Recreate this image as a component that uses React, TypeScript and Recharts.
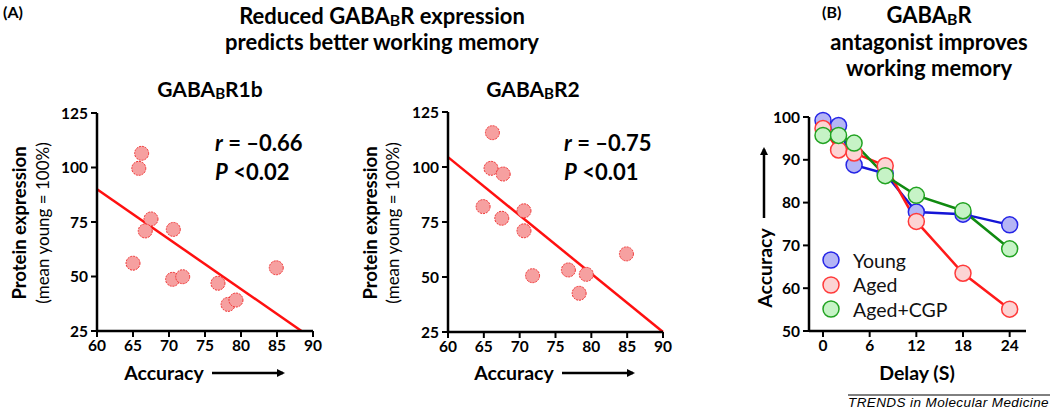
import React from 'react';
import {
  ScatterChart,
  Scatter,
  LineChart,
  Line,
  XAxis,
  YAxis,
  ReferenceLine
} from 'recharts';

// Panel A, GABA-B R1b: accuracy (%) vs protein expression (% of young mean)
const r1bAccuracy = [66.2, 65.8, 67.5, 66.7, 70.6, 65.0, 70.5, 71.9, 76.8, 78.2, 79.3, 84.9];
const r1bProtein = [106.5, 99.6, 76.4, 70.9, 71.6, 56.1, 48.7, 49.9, 46.9, 37.2, 39.2, 54.0];
const r1bFitX = [60, 88.4];
const r1bFitY = [90, 25];

// Panel A, GABA-B R2
const r2Accuracy = [66.2, 66.0, 67.7, 64.9, 67.5, 70.6, 70.6, 71.8, 76.8, 79.3, 78.3, 84.9];
const r2Protein = [115.6, 99.4, 96.8, 82.0, 76.7, 80.1, 71.0, 50.6, 53.2, 51.2, 42.6, 60.5];
const r2FitX = [60, 90];
const r2FitY = [104.5, 25];

const accuracyTicks = [60, 65, 70, 75, 80, 85, 90];
const proteinTicks = [25, 50, 75, 100, 125];

// Panel B: delay (s) vs accuracy (%)
const delays = [0, 2, 4, 8, 12, 18, 24];
const young = [99.2, 98.0, 88.8, 86.8, 77.8, 77.3, 74.8];
const aged = [97.3, 92.3, 91.6, 88.6, 75.6, 63.5, 55.1];
const agedCgp = [95.7, 95.7, 93.9, 86.3, 81.7, 78.1, 69.2];
const delayTicks = [0, 6, 12, 18, 24];
const memoryTicks = [50, 60, 70, 80, 90, 100];

const seriesNames = ['Young', 'Aged', 'Aged+CGP'];
const seriesKeys = ['young', 'aged', 'cgp'];
const lineColors = ['#1414d6', '#ff1a1a', '#108a10'];
const dotFills = ['#b5b5f5', '#fcd4d4', '#c6f3c6'];
const dotStrokes = ['#2424e6', '#ff3a3a', '#22a322'];

const FONT = "Lato, 'Open Sans', sans-serif";

const toPoints = (xs: number[], ys: number[]) => xs.map((x, i) => ({ x, y: ys[i] }));

const memoryData = delays.map((d, i) => ({
  delay: d,
  young: young[i],
  aged: aged[i],
  cgp: agedCgp[i]
}));

const tickStyle = { fill: '#000', fontSize: 15.5, fontWeight: 700, fontFamily: FONT };
const axisLine = { stroke: '#000', strokeWidth: 2.5 };
const tickLine = { stroke: '#000', strokeWidth: 2 };

const PinkDot = (props: any) => {
  const { cx, cy } = props;
  if (cx == null || cy == null) return null;
  return <circle cx={cx} cy={cy} r={7} fill="#f6a0a0" stroke="#f03030" strokeWidth={1} strokeDasharray="2 1" />;
};

const makeDot = (i: number) => (props: any) => {
  const { cx, cy, index } = props;
  if (cx == null || cy == null) return <g key={index} />;
  return <circle key={index} cx={cx} cy={cy} r={8} fill={dotFills[i]} stroke={dotStrokes[i]} strokeWidth={1.5} />;
};

const Sub = ({ children }: { children: React.ReactNode }) => (
  <span style={{ fontSize: '0.72em', position: 'relative', top: '0.15em', lineHeight: 0 }}>{children}</span>
);

const Label = ({ x, y, size, bold = true, italic = false, rotate = false, children, align = 'center' }: any) => (
  <div
    style={{
      position: 'absolute',
      left: x,
      top: y,
      transform: `translate(${align === 'left' ? '0' : '-50%'}, -50%)${rotate ? ' rotate(-90deg)' : ''}`,
      whiteSpace: 'nowrap',
      fontSize: size,
      fontWeight: bold ? 700 : 400,
      fontStyle: italic ? 'italic' : 'normal',
      lineHeight: 1,
      color: '#000'
    }}
  >
    {children}
  </div>
);

const ScatterPanel = ({ xs, ys, fitX, fitY, width, margin, yWidth }: any) => (
  <ScatterChart width={width} height={260} margin={margin}>
    <XAxis
      type="number"
      dataKey="x"
      domain={[60, 90]}
      ticks={accuracyTicks}
      interval={0}
      height={24}
      tick={tickStyle}
      tickSize={6}
      tickMargin={3}
      axisLine={axisLine}
      tickLine={tickLine}
    />
    <YAxis
      type="number"
      dataKey="y"
      domain={[25, 125]}
      ticks={proteinTicks}
      interval={0}
      width={yWidth}
      tick={tickStyle}
      tickSize={6}
      tickMargin={3}
      axisLine={axisLine}
      tickLine={tickLine}
    />
    <ReferenceLine
      segment={toPoints(fitX, fitY)}
      stroke="#ff1010"
      strokeWidth={2.5}
      ifOverflow="visible"
    />
    <Scatter data={toPoints(xs, ys)} shape={<PinkDot />} isAnimationActive={false} />
  </ScatterChart>
);

const MemoryLegend = () => (
  <div style={{ position: 'absolute', left: 821, top: 248, fontFamily: FONT }}>
    {seriesNames.map((name, i) => (
      <div key={name} style={{ display: 'flex', alignItems: 'center', height: 24.5 }}>
        <svg width={20} height={20}>
          <circle cx={10} cy={10} r={8} fill={dotFills[i]} stroke={dotStrokes[i]} strokeWidth={1.5} />
        </svg>
        <span style={{ marginLeft: 12, fontSize: 19.5, color: '#111', lineHeight: 1 }}>{name}</span>
      </div>
    ))}
  </div>
);

export default function App() {
  return (
    <div
      style={{
        position: 'absolute',
        left: 0,
        top: 0,
        width: 1050,
        height: 410,
        overflow: 'hidden',
        background: '#fff',
        fontFamily: FONT
      }}
    >
      <div style={{ position: 'absolute', left: 0, top: 100 }}>
        <ScatterPanel
          xs={r1bAccuracy}
          ys={r1bProtein}
          fitX={r1bFitX}
          fitY={r1bFitY}
          width={330}
          yWidth={47}
          margin={{ top: 13, right: 17, left: 50, bottom: 5 }}
        />
      </div>
      <div style={{ position: 'absolute', left: 330, top: 100 }}>
        <ScatterPanel
          xs={r2Accuracy}
          ys={r2Protein}
          fitX={r2FitX}
          fitY={r2FitY}
          width={350}
          yWidth={48}
          margin={{ top: 12, right: 17, left: 70, bottom: 4 }}
        />
      </div>
      <div style={{ position: 'absolute', left: 740, top: 100 }}>
        <LineChart width={300} height={260} data={memoryData} margin={{ top: 17, right: 14, left: 29, bottom: 5 }}>
          <XAxis
            type="number"
            dataKey="delay"
            domain={[-1.8, 26.1]}
            ticks={delayTicks}
            interval={0}
            height={24}
            tick={tickStyle}
            tickSize={6}
            tickMargin={3}
            axisLine={axisLine}
            tickLine={tickLine}
          />
          <YAxis
            type="number"
            domain={[50, 100]}
            ticks={memoryTicks}
            interval={0}
            width={40}
            tick={tickStyle}
            tickSize={6}
            tickMargin={3}
            axisLine={axisLine}
            tickLine={tickLine}
          />
          {seriesKeys.map((k, i) => (
            <Line
              key={k}
              dataKey={k}
              name={seriesNames[i]}
              stroke={lineColors[i]}
              strokeWidth={2.5}
              dot={makeDot(i)}
              isAnimationActive={false}
            />
          ))}
        </LineChart>
      </div>
      <MemoryLegend />

      {/* panel letters and titles */}
      <Label x={3} y={12} size={16} align="left">(A)</Label>
      <Label x={822} y={12} size={16} align="left">(B)</Label>
      <Label x={382} y={16} size={22}>Reduced GABA<Sub>B</Sub>R expression</Label>
      <Label x={382} y={42} size={22}>predicts better working memory</Label>
      <Label x={210} y={88} size={21}>GABA<Sub>B</Sub>R1b</Label>
      <Label x={533} y={88} size={21}>GABA<Sub>B</Sub>R2</Label>
      <Label x={929} y={15} size={22}>GABA<Sub>B</Sub>R</Label>
      <Label x={929} y={42} size={22}>antagonist improves</Label>
      <Label x={929} y={68} size={22}>working memory</Label>

      {/* correlation stats */}
      <Label x={215} y={143} size={22} align="left"><i>r</i> = –0.66</Label>
      <Label x={215} y={172} size={22} align="left"><i>P</i> &lt;0.02</Label>
      <Label x={564} y={143} size={22} align="left"><i>r</i> = –0.75</Label>
      <Label x={564} y={172} size={22} align="left"><i>P</i> &lt;0.01</Label>

      {/* axis titles */}
      <Label x={19} y={223} size={18.5} rotate>Protein expression</Label>
      <Label x={42} y={223} size={17} bold={false} rotate>(mean young = 100%)</Label>
      <Label x={370} y={223} size={18.5} rotate>Protein expression</Label>
      <Label x={392} y={223} size={17} bold={false} rotate>(mean young = 100%)</Label>
      <Label x={164} y={373} size={19.5}>Accuracy</Label>
      <Label x={514} y={373} size={19.5}>Accuracy</Label>
      <Label x={765} y={268} size={19.5} rotate>Accuracy</Label>
      <Label x={917} y={373} size={19.5}>Delay (S)</Label>
      <Label x={848} y={402.5} size={13.5} bold={false} italic align="left">
        <span style={{ fontFamily: "'Liberation Sans', Arial, sans-serif", letterSpacing: 0.4 }}>
          TRENDS in Molecular Medicine
        </span>
      </Label>

      <svg width={1050} height={410} style={{ position: 'absolute', left: 0, top: 0, pointerEvents: 'none' }}>
        <defs>
          <marker id="head" markerWidth="8" markerHeight="8" refX="6" refY="4" orient="auto" markerUnits="userSpaceOnUse">
            <path d="M0,0 L8,4 L0,8 z" fill="#000" />
          </marker>
        </defs>
        <line x1={212} y1={373} x2={283} y2={373} stroke="#000" strokeWidth={2.5} markerEnd="url(#head)" />
        <line x1={562} y1={373} x2={633} y2={373} stroke="#000" strokeWidth={2.5} markerEnd="url(#head)" />
        <line x1={764} y1={218} x2={764} y2={149} stroke="#000" strokeWidth={2.5} markerEnd="url(#head)" />
        <line x1={848} y1={395} x2={1050} y2={395} stroke="#000" strokeWidth={1} />
      </svg>
    </div>
  );
}
